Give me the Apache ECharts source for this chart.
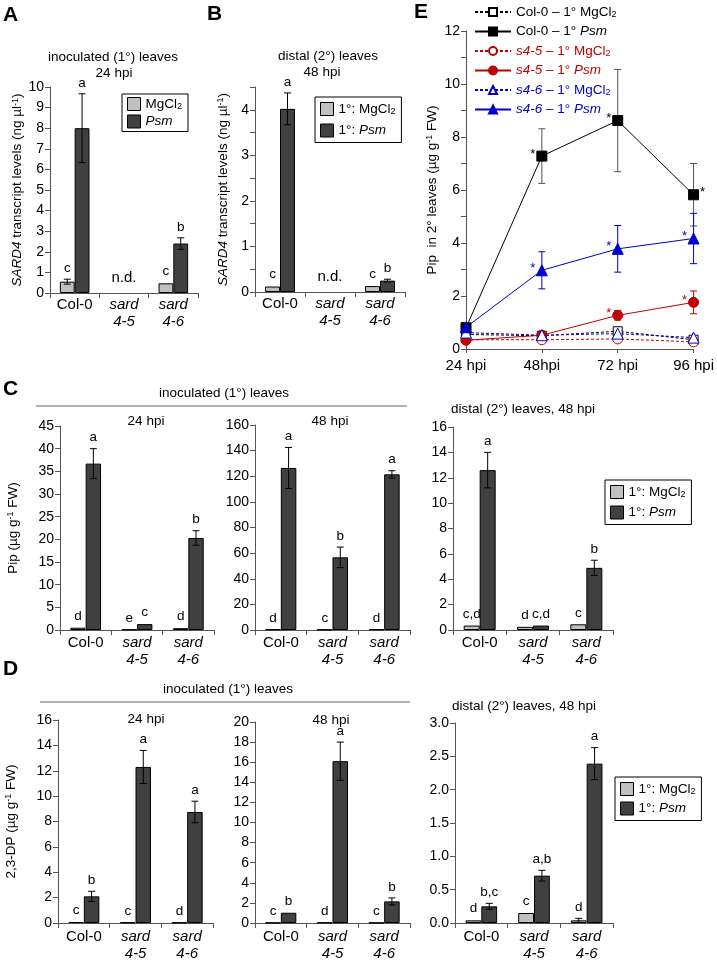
<!DOCTYPE html>
<html><head><meta charset="utf-8">
<script src="https://cdn.jsdelivr.net/npm/echarts@6/dist/echarts.min.js"></script>
<style>html,body{margin:0;padding:0;background:#fff}#c{width:717px;height:961px}</style>
</head><body><div id="c"></div>
<script>
const FONT = '"Liberation Sans", Arial, sans-serif';
const TICK = 14, CAT = 15, TITLE = 13.5, LEG = 13.5;
const LIGHT = '#c0c0c0', DARK = '#404040', AX = '#555';
const RED = '#c00000', BLUE = '#0000cc';
const BAR_FRAC = 0.30;

// ---------------- categories / tick labels
const genotypes = ['Col-0', 'sard 4-5', 'sard 4-6'];
const timepoints = ['24 hpi', '48hpi', '72 hpi', '96 hpi'];

// ---------------- Panel A : SARD4 transcript, inoculated leaves 24 hpi
const A_mg = [0.55, null, 0.47];
const A_mgErr = [0.12, 0, 0.03];
const A_mgLet = ['c', '', 'c'];
const A_psm = [8.0, null, 2.4];
const A_psmErr = [1.67, 0, 0.28];
const A_psmLet = ['a', '', 'b'];
const A_nd = ['', 'n.d.', ''];

// ---------------- Panel B : SARD4 transcript, distal leaves 48 hpi
const B_mg = [0.12, null, 0.13];
const B_mgErr = [0.02, 0, 0.015];
const B_mgLet = ['c', '', 'c'];
const B_psm = [4.02, null, 0.25];
const B_psmErr = [0.35, 0, 0.03];
const B_psmLet = ['a', '', 'b'];
const B_nd = ['', 'n.d.', ''];

// ---------------- Panel C : Pip
const C1_mg = [0.5, 0.1, 0.4];
const C1_mgErr = [0.15, 0.03, 0.1];
const C1_mgLet = ['d', 'e', 'd'];
const C1_psm = [36.7, 1.3, 20.3];
const C1_psmErr = [3.3, 0.1, 1.6];
const C1_psmLet = ['a', 'c', 'b'];

const C2_mg = [0.5, 0.3, 0.5];
const C2_mgErr = [0.1, 0.05, 0.1];
const C2_mgLet = ['d', 'c', 'd'];
const C2_psm = [126.5, 56.7, 121.5];
const C2_psmErr = [16.0, 8.0, 2.8];
const C2_psmLet = ['a', 'b', 'a'];

const C3_mg = [0.35, 0.25, 0.45];
const C3_mgErr = [0.03, 0.05, 0.04];
const C3_mgLet = ['c,d', 'd', 'c'];
const C3_psm = [12.6, 0.35, 4.9];
const C3_psmErr = [1.4, 0.03, 0.6];
const C3_psmLet = ['a', 'c,d', 'b'];

// ---------------- Panel D : 2,3-DP
const D1_mg = [0.08, 0.05, 0.04];
const D1_mgErr = [0.02, 0.01, 0.01];
const D1_mgLet = ['c', 'c', 'd'];
const D1_psm = [2.1, 12.3, 8.75];
const D1_psmErr = [0.4, 1.3, 0.85];
const D1_psmLet = ['b', 'a', 'a'];

const D2_mg = [0.03, 0.05, 0.03];
const D2_mgErr = [0.01, 0.01, 0.01];
const D2_mgLet = ['c', 'd', 'c'];
const D2_psm = [1.02, 16.1, 2.15];
const D2_psmErr = [0.06, 1.9, 0.35];
const D2_psmLet = ['b', 'a', 'b'];

const D3_mg = [0.04, 0.15, 0.04];
const D3_mgErr = [0.01, 0.015, 0.03];
const D3_mgLet = ['d', 'c', 'd'];
const D3_psm = [0.25, 0.71, 2.39];
const D3_psmErr = [0.045, 0.08, 0.24];
const D3_psmLet = ['b,c', 'a,b', 'a'];

// ---------------- Panel E : Pip in 2° leaves, time course
const E_col0Mg = [0.55, 0.5, 0.67, 0.35];
const E_col0Psm = [0.8, 7.28, 8.62, 5.82];
const E_col0PsmErr = [0.12, 1.03, 1.93, 1.18];
const E_col0Star = ['', '*', '*', '*'];
const E_s45Mg = [0.35, 0.35, 0.38, 0.27];
const E_s45Psm = [0.33, 0.52, 1.27, 1.76];
const E_s45PsmErr = [0.05, 0.08, 0.18, 0.43];
const E_s45Star = ['', '', '*', '*'];
const E_s46Mg = [0.62, 0.52, 0.58, 0.43];
const E_s46Psm = [0.82, 2.97, 3.78, 4.17];
const E_s46PsmErr = [0.12, 0.7, 0.88, 0.95];
const E_s46Star = ['', '*', '*', '*'];
const E_starSide = {col0: [0, -1, -1, 1], s45: [0, -1, -1, -1], s46: [0, -1, -1, -1]};

// =====================================================================
const F = (size, extra) => Object.assign({fontFamily: FONT, fontSize: size, color: '#000'}, extra || {});

function catAxis(gi, margin) {
  return {
    type: 'category', gridIndex: gi, data: genotypes,
    axisLine: {lineStyle: {color: AX, width: 1}},
    axisTick: {show: true, length: 5, lineStyle: {color: AX}},
    axisLabel: {
      margin: margin, interval: 0,
      formatter: v => v.indexOf('sard') === 0 ? '{i|sard}\n{i|' + v.slice(5) + '}' : '{n|' + v + '}',
      rich: {n: F(CAT, {lineHeight: 17}), i: F(CAT, {lineHeight: 17, fontStyle: 'italic'})}
    }
  };
}

const nameRich = {
  n: F(TITLE), i: F(TITLE, {fontStyle: 'italic'}), s: F(9, {verticalAlign: 'top', lineHeight: 14})
};

function valAxis(gi, max, interval, fmt, name, nameGap) {
  return {
    type: 'value', gridIndex: gi, min: 0, max: max, interval: interval,
    splitLine: {show: false},
    axisLine: {show: true, lineStyle: {color: AX, width: 1}},
    axisTick: {show: true, length: 5, lineStyle: {color: AX}},
    axisLabel: Object.assign(F(TICK), {margin: 6, formatter: fmt}),
    name: name || '', nameLocation: 'middle', nameGap: nameGap || 30,
    nameTextStyle: Object.assign(F(TITLE), {rich: nameRich})
  };
}

function barPanel(gi, mg, mgErr, mgLet, psm, psmErr, psmLet, nd, nmMg, nmPsm) {
  const rows = [], lets = [];
  mg.forEach((v, i) => { if (v != null) { rows.push([i, v, mgErr[i], 0]); lets.push(mgLet[i]); } });
  psm.forEach((v, i) => { if (v != null) { rows.push([i, v, psmErr[i], 1]); lets.push(psmLet[i]); } });
  if (nd) nd.forEach((t, i) => { if (t) { rows.push([i, 0, 0, 2]); lets.push(t); } });
  return [
    {type: 'bar', name: nmMg, xAxisIndex: gi, yAxisIndex: gi, data: mg, barWidth: '30%', barGap: '0%',
     itemStyle: {color: LIGHT, borderColor: '#000', borderWidth: 1}, silent: true},
    {type: 'bar', name: nmPsm, xAxisIndex: gi, yAxisIndex: gi, data: psm, barWidth: '30%', barGap: '0%',
     itemStyle: {color: DARK, borderColor: '#000', borderWidth: 1}, silent: true},
    {type: 'custom', xAxisIndex: gi, yAxisIndex: gi, data: rows, z: 5, silent: true,
     renderItem: (params, api) => {
       const cat = api.value(0), v = api.value(1), e = api.value(2), side = api.value(3);
       const bw = api.size([1, 0])[0] * BAR_FRAC;
       const off = side === 0 ? -bw / 2 : (side === 1 ? bw / 2 : 0);
       const p = api.coord([cat, v]);
       const x = p[0] + off;
       const yT = api.coord([cat, v + e])[1];
       const yB = api.coord([cat, Math.max(v - e, 0)])[1];
       const ch = [];
       if (e > 0 && (yB - yT) > 2.5) {
         const st = {stroke: '#000', lineWidth: 1};
         ch.push({type: 'line', shape: {x1: x, y1: yT, x2: x, y2: yB}, style: st});
         ch.push({type: 'line', shape: {x1: x - 3.5, y1: yT, x2: x + 3.5, y2: yT}, style: st});
         ch.push({type: 'line', shape: {x1: x - 3.5, y1: yB, x2: x + 3.5, y2: yB}, style: st});
       }
       const t = lets[params.dataIndex];
       if (t) {
         const isNd = side === 2;
         ch.push({type: 'text', style: {
           text: t, x: x, y: Math.min(yT, p[1]) - (isNd ? 8 : 4),
           textAlign: 'center', align: 'center', textVerticalAlign: 'bottom', verticalAlign: 'bottom',
           fontFamily: FONT, fontSize: isNd ? CAT : 13.5, fill: '#000'}});
       }
       return {type: 'group', children: ch};
     }}
  ];
}

function eErr(gi, vals, errs, stars, sides, color, errColor) {
  const rows = vals.map((v, i) => [i, v, errs[i]]);
  return {type: 'custom', xAxisIndex: gi, yAxisIndex: gi, data: rows, z: 1, silent: true,
    renderItem: (params, api) => {
      const i = api.value(0), v = api.value(1), e = api.value(2);
      const p = api.coord([i, v]);
      const yT = api.coord([i, v + e])[1], yB = api.coord([i, v - e])[1];
      const st = {stroke: errColor, lineWidth: 1};
      const ch = [];
      if (yB - yT > 4) {
        ch.push({type: 'line', shape: {x1: p[0], y1: yT, x2: p[0], y2: yB}, style: st});
        ch.push({type: 'line', shape: {x1: p[0] - 3.5, y1: yT, x2: p[0] + 3.5, y2: yT}, style: st});
        ch.push({type: 'line', shape: {x1: p[0] - 3.5, y1: yB, x2: p[0] + 3.5, y2: yB}, style: st});
      }
      const s = stars[params.dataIndex];
      if (s) {
        ch.push({type: 'text', style: {text: s, x: p[0] + sides[params.dataIndex] * 9, y: p[1] - 2,
          textAlign: 'center', align: 'center', textVerticalAlign: 'middle', verticalAlign: 'middle',
          fontFamily: FONT, fontSize: 13, fill: color}});
      }
      return {type: 'group', children: ch};
    }};
}

function eLine(gi, name, data, symbol, size, color, filled, dashed) {
  return {type: 'line', name: name, xAxisIndex: gi, yAxisIndex: gi, data: data,
    symbol: symbol, symbolSize: size, showSymbol: true, silent: true, z: 3,
    itemStyle: {color: filled ? color : '#fff', borderColor: color, borderWidth: 1},
    lineStyle: {color: color, width: 1, type: dashed ? [3, 2] : 'solid'}};
}

// ---- grids
const grids = [
  {left: 50, top: 87, width: 148, height: 206},   // 0 A
  {left: 255, top: 87, width: 150, height: 205},  // 1 B
  {left: 466, top: 31, width: 231, height: 318},  // 2 E
  {left: 60, top: 426, width: 154, height: 204},  // 3 C1
  {left: 255, top: 425, width: 155, height: 205}, // 4 C2
  {left: 453, top: 427, width: 160, height: 203}, // 5 C3
  {left: 58, top: 720, width: 155, height: 206},  // 6 D1
  {left: 255, top: 722, width: 155, height: 205}, // 7 D2
  {left: 455, top: 723, width: 158, height: 204}  // 8 D3
];

const sardName = '{i|SARD4}{n| transcript levels (ng µl}{s|-1}{n|)}';
const xAxes = [
  catAxis(0, 3), catAxis(1, 3),
  {type: 'category', gridIndex: 2, data: timepoints, boundaryGap: false,
   axisLine: {lineStyle: {color: AX}}, axisTick: {show: true, length: 4, lineStyle: {color: AX}},
   axisLabel: Object.assign(F(CAT), {margin: 9, interval: 0})},
  catAxis(3, 4), catAxis(4, 4), catAxis(5, 4), catAxis(6, 5), catAxis(7, 5), catAxis(8, 5)
];
const yAxes = [
  valAxis(0, 10, 1, v => v, sardName, 21),
  valAxis(1, 4.5, 0.5, v => Number.isInteger(v) ? v : '', sardName, 25),
  valAxis(2, 12, 1, v => v % 2 === 0 ? v : '', '{n|Pip  in 2° leaves (µg g}{s|-1}{n| FW)}', 27),
  valAxis(3, 45, 5, v => v, '{n|Pip (µg g}{s|-1}{n| FW)}', 40),
  valAxis(4, 160, 20, v => v),
  valAxis(5, 16, 2, v => v),
  valAxis(6, 16, 2, v => v, '{n|2,3-DP (µg g}{s|-1}{n| FW)}', 40),
  valAxis(7, 20, 2, v => v),
  valAxis(8, 3, 0.5, v => v.toFixed(1))
];

const series = [].concat(
  barPanel(0, A_mg, A_mgErr, A_mgLet, A_psm, A_psmErr, A_psmLet, A_nd, 'MgCl2', 'Psm'),
  barPanel(1, B_mg, B_mgErr, B_mgLet, B_psm, B_psmErr, B_psmLet, B_nd, '1°: MgCl2', '1°: Psm'),
  barPanel(3, C1_mg, C1_mgErr, C1_mgLet, C1_psm, C1_psmErr, C1_psmLet, null, '1°: MgCl2', '1°: Psm'),
  barPanel(4, C2_mg, C2_mgErr, C2_mgLet, C2_psm, C2_psmErr, C2_psmLet, null, '1°: MgCl2', '1°: Psm'),
  barPanel(5, C3_mg, C3_mgErr, C3_mgLet, C3_psm, C3_psmErr, C3_psmLet, null, '1°: MgCl2', '1°: Psm'),
  barPanel(6, D1_mg, D1_mgErr, D1_mgLet, D1_psm, D1_psmErr, D1_psmLet, null, '1°: MgCl2', '1°: Psm'),
  barPanel(7, D2_mg, D2_mgErr, D2_mgLet, D2_psm, D2_psmErr, D2_psmLet, null, '1°: MgCl2', '1°: Psm'),
  barPanel(8, D3_mg, D3_mgErr, D3_mgLet, D3_psm, D3_psmErr, D3_psmLet, null, '1°: MgCl2', '1°: Psm'),
  [
    eErr(2, E_col0Psm, E_col0PsmErr, E_col0Star, E_starSide.col0, '#000', '#555'),
    eErr(2, E_s45Psm, E_s45PsmErr, E_s45Star, E_starSide.s45, RED, RED),
    eErr(2, E_s46Psm, E_s46PsmErr, E_s46Star, E_starSide.s46, BLUE, BLUE),
    eLine(2, 'Col-0 – 1° MgCl2', E_col0Mg, 'rect', 9, '#000', false, true),
    eLine(2, 'Col-0 – 1° Psm', E_col0Psm, 'rect', 10, '#000', true, false),
    eLine(2, 's4-5 – 1° MgCl2', E_s45Mg, 'circle', 10, RED, false, true),
    eLine(2, 's4-5 – 1° Psm', E_s45Psm, 'circle', 10, RED, true, false),
    eLine(2, 's4-6 – 1° MgCl2', E_s46Mg, 'triangle', 11, BLUE, false, true),
    eLine(2, 's4-6 – 1° Psm', E_s46Psm, 'triangle', 11, BLUE, true, false)
  ]
);

// ---- legends
const barLegRich = {
  n: F(LEG), i: F(LEG, {fontStyle: 'italic'}), s: F(9, {verticalAlign: 'bottom', lineHeight: 15})
};
const barLegFmt = {
  'MgCl2': '{n|MgCl}{s|2}', 'Psm': '{i|Psm}',
  '1°: MgCl2': '{n|1°: MgCl}{s|2}', '1°: Psm': '{n|1°: }{i|Psm}'
};
function barLegend(names, left, top, gap, pad) {
  return {data: names, left: left, top: top, orient: 'vertical', icon: 'rect',
    itemWidth: 13, itemHeight: 13, itemGap: gap, selectedMode: false,
    borderColor: '#000', borderWidth: 1, padding: pad, backgroundColor: '#fff',
    itemStyle: {borderColor: '#000', borderWidth: 1},
    formatter: n => barLegFmt[n], textStyle: Object.assign(F(LEG), {rich: barLegRich})};
}
const eRich = {};
[['k', '#000'], ['r', RED], ['b', BLUE]].forEach(([k, c]) => {
  eRich[k] = F(LEG, {color: c, lineHeight: 14});
  eRich[k + 'i'] = F(LEG, {color: c, fontStyle: 'italic', lineHeight: 14});
  eRich[k + 's'] = F(9, {color: c, verticalAlign: 'bottom', lineHeight: 14});
});
const eLegFmt = {
  'Col-0 – 1° MgCl2': '{k|Col-0 – 1° MgCl}{ks|2}',
  'Col-0 – 1° Psm': '{k|Col-0 – 1° }{ki|Psm}',
  's4-5 – 1° MgCl2': '{ri|s4-5}{r| – 1° MgCl}{rs|2}',
  's4-5 – 1° Psm': '{ri|s4-5}{r| – 1° }{ri|Psm}',
  's4-6 – 1° MgCl2': '{bi|s4-6}{b| – 1° MgCl}{bs|2}',
  's4-6 – 1° Psm': '{bi|s4-6}{b| – 1° }{bi|Psm}'
};
const legends = [
  barLegend(['MgCl2', 'Psm'], 122, 94, 3, [3, 6, 3, 5]),
  barLegend(['1°: MgCl2', '1°: Psm'], 315, 97, 7, [5, 6, 5, 5]),
  barLegend(['1°: MgCl2', '1°: Psm'], 605, 480, 6, [5, 6, 5, 5]),
  barLegend(['1°: MgCl2', '1°: Psm'], 615, 777, 5, [5, 6, 5, 5]),
  {data: Object.keys(eLegFmt), left: 474, top: 5, orient: 'vertical', itemWidth: 36, itemHeight: 10,
   itemGap: 5.5, padding: 0, selectedMode: false, formatter: n => eLegFmt[n],
   textStyle: Object.assign(F(LEG, {lineHeight: 14}), {rich: eRich})}
];

// ---- texts
function T(text, x, y, opt) {
  return {type: 'text', x: x, y: y, silent: true, style: Object.assign({
    text: text, fontFamily: FONT, fontSize: TITLE, fill: '#000',
    textAlign: 'center', align: 'center', textVerticalAlign: 'middle', verticalAlign: 'middle'}, opt || {})};
}
const B = {fontSize: 21, fontWeight: 'bold', textAlign: 'left', align: 'left'};
const graphics = [
  T('A', 3, 15, B), T('B', 207, 14, B), T('E', 414, 12, B), T('C', 3, 389, B), T('D', 3, 669, B),
  T('inoculated (1°) leaves', 113, 57), T('24 hpi', 114, 73),
  T('distal (2°) leaves', 328, 56), T('48 hpi', 322, 72),
  T('inoculated (1°) leaves', 224, 393),
  {type: 'line', silent: true, shape: {x1: 36, y1: 406, x2: 407, y2: 406}, style: {stroke: '#666', lineWidth: 1}},
  T('24 hpi', 146, 421), T('48 hpi', 330, 421), T('distal (2°) leaves, 48 hpi', 523, 409),
  T('inoculated (1°) leaves', 228, 689),
  {type: 'line', silent: true, shape: {x1: 40, y1: 702, x2: 410, y2: 702}, style: {stroke: '#666', lineWidth: 1}},
  T('24 hpi', 146, 719), T('48 hpi', 331, 720), T('distal (2°) leaves, 48 hpi', 524, 706)
];

const chart = echarts.init(document.getElementById('c'));
chart.setOption({
  animation: false, backgroundColor: '#fff',
  textStyle: {fontFamily: FONT},
  grid: grids, xAxis: xAxes, yAxis: yAxes, series: series, legend: legends, graphic: graphics
});
</script></body></html>
